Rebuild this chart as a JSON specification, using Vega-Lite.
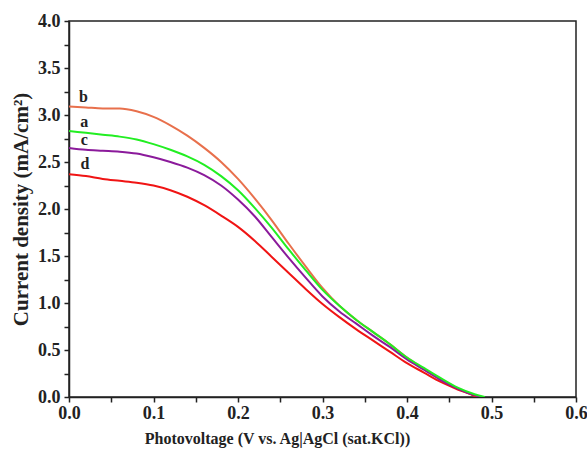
{
  "$schema": "https://vega.github.io/schema/vega-lite/v6.json",
  "width": 507,
  "height": 376,
  "autosize": "none",
  "padding": {"left": 69, "top": 21, "right": 11, "bottom": 55},
  "background": "white",
  "config": {
    "view": {"stroke": "#222", "strokeWidth": 1.5},
    "axis": {
      "zindex": 1,
      "domainColor": "#222",
      "domainWidth": 1.5,
      "ticks": true,
      "tickColor": "#222",
      "tickWidth": 1.5,
      "grid": false,
      "labelFlush": false,
      "labelFont": "Liberation Serif",
      "labelFontWeight": "bold",
      "labelColor": "#222",
      "titleFont": "Liberation Serif",
      "titleFontWeight": "bold",
      "titleColor": "#222"
    }
  },
  "datasets": {
    "curves": [
      {"s": "b", "v": 0.000, "j": 3.09}, {"s": "b", "v": 0.020, "j": 3.08}, {"s": "b", "v": 0.040, "j": 3.07}, {"s": "b", "v": 0.060, "j": 3.07},
      {"s": "b", "v": 0.080, "j": 3.04}, {"s": "b", "v": 0.100, "j": 2.98}, {"s": "b", "v": 0.120, "j": 2.89}, {"s": "b", "v": 0.140, "j": 2.78},
      {"s": "b", "v": 0.160, "j": 2.65}, {"s": "b", "v": 0.180, "j": 2.50}, {"s": "b", "v": 0.200, "j": 2.32}, {"s": "b", "v": 0.220, "j": 2.11},
      {"s": "b", "v": 0.240, "j": 1.88}, {"s": "b", "v": 0.260, "j": 1.63}, {"s": "b", "v": 0.280, "j": 1.39}, {"s": "b", "v": 0.300, "j": 1.16},
      {"s": "b", "v": 0.320, "j": 0.97}, {"s": "b", "v": 0.340, "j": 0.82}, {"s": "b", "v": 0.360, "j": 0.69}, {"s": "b", "v": 0.380, "j": 0.56},
      {"s": "b", "v": 0.400, "j": 0.42}, {"s": "b", "v": 0.420, "j": 0.30}, {"s": "b", "v": 0.440, "j": 0.19}, {"s": "b", "v": 0.460, "j": 0.09},
      {"s": "b", "v": 0.480, "j": 0.02}, {"s": "b", "v": 0.487, "j": 0.00},
      {"s": "d", "v": 0.000, "j": 2.37}, {"s": "d", "v": 0.020, "j": 2.35}, {"s": "d", "v": 0.040, "j": 2.32}, {"s": "d", "v": 0.060, "j": 2.30},
      {"s": "d", "v": 0.080, "j": 2.28}, {"s": "d", "v": 0.100, "j": 2.25}, {"s": "d", "v": 0.120, "j": 2.20}, {"s": "d", "v": 0.140, "j": 2.13},
      {"s": "d", "v": 0.160, "j": 2.04}, {"s": "d", "v": 0.180, "j": 1.93}, {"s": "d", "v": 0.200, "j": 1.81}, {"s": "d", "v": 0.220, "j": 1.66},
      {"s": "d", "v": 0.240, "j": 1.49}, {"s": "d", "v": 0.260, "j": 1.32}, {"s": "d", "v": 0.280, "j": 1.15}, {"s": "d", "v": 0.300, "j": 0.99},
      {"s": "d", "v": 0.320, "j": 0.85}, {"s": "d", "v": 0.340, "j": 0.72}, {"s": "d", "v": 0.360, "j": 0.60}, {"s": "d", "v": 0.380, "j": 0.48},
      {"s": "d", "v": 0.400, "j": 0.36}, {"s": "d", "v": 0.420, "j": 0.26}, {"s": "d", "v": 0.440, "j": 0.16}, {"s": "d", "v": 0.460, "j": 0.08},
      {"s": "d", "v": 0.480, "j": 0.01}, {"s": "d", "v": 0.482, "j": 0.00},
      {"s": "c", "v": 0.000, "j": 2.65}, {"s": "c", "v": 0.020, "j": 2.63}, {"s": "c", "v": 0.040, "j": 2.62}, {"s": "c", "v": 0.060, "j": 2.61},
      {"s": "c", "v": 0.080, "j": 2.59}, {"s": "c", "v": 0.100, "j": 2.55}, {"s": "c", "v": 0.120, "j": 2.50}, {"s": "c", "v": 0.140, "j": 2.44},
      {"s": "c", "v": 0.160, "j": 2.36}, {"s": "c", "v": 0.180, "j": 2.25}, {"s": "c", "v": 0.200, "j": 2.10}, {"s": "c", "v": 0.220, "j": 1.92},
      {"s": "c", "v": 0.240, "j": 1.70}, {"s": "c", "v": 0.260, "j": 1.48}, {"s": "c", "v": 0.280, "j": 1.27}, {"s": "c", "v": 0.300, "j": 1.07},
      {"s": "c", "v": 0.320, "j": 0.91}, {"s": "c", "v": 0.340, "j": 0.78}, {"s": "c", "v": 0.360, "j": 0.65}, {"s": "c", "v": 0.380, "j": 0.53},
      {"s": "c", "v": 0.400, "j": 0.40}, {"s": "c", "v": 0.420, "j": 0.29}, {"s": "c", "v": 0.440, "j": 0.18}, {"s": "c", "v": 0.460, "j": 0.09},
      {"s": "c", "v": 0.480, "j": 0.02}, {"s": "c", "v": 0.488, "j": 0.00},
      {"s": "a", "v": 0.000, "j": 2.83}, {"s": "a", "v": 0.020, "j": 2.81}, {"s": "a", "v": 0.040, "j": 2.79}, {"s": "a", "v": 0.060, "j": 2.77},
      {"s": "a", "v": 0.080, "j": 2.74}, {"s": "a", "v": 0.100, "j": 2.69}, {"s": "a", "v": 0.120, "j": 2.63}, {"s": "a", "v": 0.140, "j": 2.56},
      {"s": "a", "v": 0.160, "j": 2.47}, {"s": "a", "v": 0.180, "j": 2.35}, {"s": "a", "v": 0.200, "j": 2.20}, {"s": "a", "v": 0.220, "j": 2.01},
      {"s": "a", "v": 0.240, "j": 1.80}, {"s": "a", "v": 0.260, "j": 1.57}, {"s": "a", "v": 0.280, "j": 1.35}, {"s": "a", "v": 0.300, "j": 1.14},
      {"s": "a", "v": 0.320, "j": 0.97}, {"s": "a", "v": 0.340, "j": 0.82}, {"s": "a", "v": 0.360, "j": 0.69}, {"s": "a", "v": 0.380, "j": 0.56},
      {"s": "a", "v": 0.400, "j": 0.42}, {"s": "a", "v": 0.420, "j": 0.31}, {"s": "a", "v": 0.440, "j": 0.20}, {"s": "a", "v": 0.460, "j": 0.10},
      {"s": "a", "v": 0.480, "j": 0.03}, {"s": "a", "v": 0.492, "j": 0.00}
    ],
    "labels": [
      {"t": "b", "v": 0.017, "j": 3.19},
      {"t": "a", "v": 0.018, "j": 2.93},
      {"t": "c", "v": 0.018, "j": 2.73},
      {"t": "d", "v": 0.019, "j": 2.48}
    ]
  },
  "encoding": {
    "x": {
      "field": "v", "type": "quantitative",
      "scale": {"domain": [0, 0.6], "nice": false, "zero": false},
      "axis": {
        "title": "Photovoltage (V vs. Ag|AgCl (sat.KCl))",
        "titleX": 208,
        "titleFontSize": 16,
        "labelFontSize": 18,
        "labelFlush": false,
        "values": [0, 0.05, 0.1, 0.15, 0.2, 0.25, 0.3, 0.35, 0.4, 0.45, 0.5, 0.55, 0.6],
        "labelExpr": "abs(datum.value*10 - round(datum.value*10)) < 0.01 ? format(datum.value, '.1f') : ''",
        "ticks": true,
        "tickSize": 5,
        "labelPadding": 2,
        "titlePadding": 8,
        "encode": {
          "ticks": {"update": {"y2": {"signal": "abs(datum.value*10 - round(datum.value*10)) < 0.01 ? -6 : -4"}}}
        }
      }
    },
    "y": {
      "field": "j", "type": "quantitative",
      "scale": {"domain": [0, 4], "nice": false, "zero": false},
      "axis": {
        "title": "Current density (mA/cm²)",
        "titleFontSize": 21,
        "labelFontSize": 18,
        "labelFlush": false,
        "values": [0, 0.25, 0.5, 0.75, 1, 1.25, 1.5, 1.75, 2, 2.25, 2.5, 2.75, 3, 3.25, 3.5, 3.75, 4],
        "labelExpr": "abs(datum.value*2 - round(datum.value*2)) < 0.01 ? format(datum.value, '.1f') : ''",
        "ticks": true,
        "tickSize": 5,
        "labelPadding": 4,
        "titlePadding": 6,
        "encode": {
          "ticks": {"update": {"x2": {"signal": "abs(datum.value*2 - round(datum.value*2)) < 0.01 ? 6 : 4"}}}
        }
      }
    }
  },
  "layer": [
    {
      "data": {"name": "curves"},
      "mark": {"type": "line", "strokeWidth": 2, "clip": true, "interpolate": "monotone"},
      "encoding": {
        "color": {
          "field": "s", "type": "nominal",
          "scale": {"domain": ["a", "b", "c", "d"], "range": ["#22EE22", "#E8704C", "#8B1A9B", "#F01414"]},
          "legend": null
        }
      }
    },
    {
      "data": {"name": "labels"},
      "mark": {"type": "text", "font": "Liberation Serif", "fontWeight": "bold", "fontSize": 16, "color": "#222", "align": "center", "baseline": "middle"},
      "encoding": {
        "text": {"field": "t"}
      }
    }
  ]
}
